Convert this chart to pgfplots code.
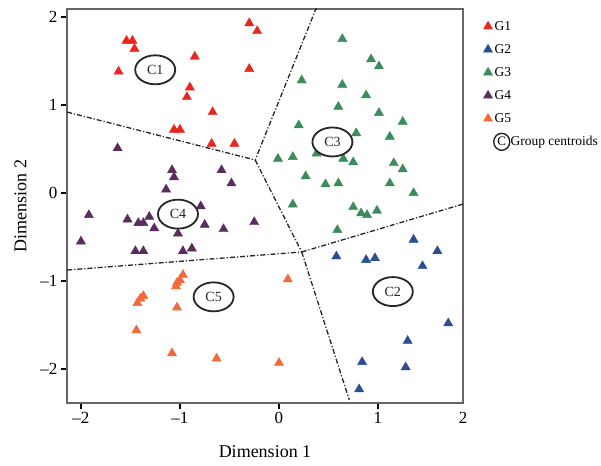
\documentclass[border=0pt]{standalone}
\usepackage{fontspec}
\setmainfont{Liberation Serif}
\usepackage{pgfplots}
\pgfplotsset{compat=1.18}
\usetikzlibrary{shapes.geometric}
\definecolor{cA}{RGB}{232,38,30}
\definecolor{cB}{RGB}{42,78,142}
\definecolor{cC}{RGB}{58,140,92}
\definecolor{cD}{RGB}{90,46,92}
\definecolor{cE}{RGB}{242,106,58}
\pgfplotsset{grp/.style={only marks, mark=triangle*, mark size=5.3pt, color=#1, fill=#1,
  legend image code/.code={\draw[mark size=5.2pt] plot coordinates {(0.17cm,0cm)};}}}
\begin{document}
\begin{tikzpicture}
\useasboundingbox (-67pt,-62pt) rectangle (534pt,403pt);
\begin{axis}[
  scale only axis, width=396pt, height=394pt,
  xmin=-2.141, xmax=1.859, ymin=-2.386, ymax=2.091,
  axis line style={draw=black!60, line width=1.4pt},
  tick pos=left, tick align=outside,
  major tick length=6pt,
  tick style={black, line width=2pt},
  xtick={-2,-1,0,1}, xticklabels={--2,--1,0,1},
  extra x ticks={1.859}, extra x tick labels={2}, extra x tick style={tick style={draw=none}},
  ytick={-2,-1,0,1,2}, yticklabels={--2,--1,0,1,2},
  ticklabel style={font=\fontsize{17}{20}\selectfont},
  xlabel={Dimension 1}, ylabel={Dimension 2},
  xlabel shift=3pt, ylabel shift=7pt,
  label style={font=\fontsize{18}{21}\selectfont},
  legend style={draw=none, fill=none, at={(1,1)}, anchor=north west, xshift=17pt, yshift=-8pt,
    font=\fontsize{13.5}{16}\selectfont, row sep=8.6pt, inner xsep=3pt, inner ysep=2pt,
    nodes={inner sep=2pt, text depth=0.15em}, cells={anchor=west}},
]
% boundaries
\addplot[forget plot, black!85, line width=1.3pt, dash pattern=on 5pt off 2pt on 1.2pt off 2pt] coordinates {(0.38,2.11) (-0.24,0.375)};
\addplot[forget plot, black!85, line width=1.3pt, dash pattern=on 5pt off 2pt on 1.2pt off 2pt] coordinates {(-2.14,0.92) (-0.24,0.375)};
\addplot[forget plot, black!85, line width=1.3pt, dash pattern=on 5pt off 2pt on 1.2pt off 2pt] coordinates {(-0.24,0.375) (0.23,-0.67)};
\addplot[forget plot, black!85, line width=1.3pt, dash pattern=on 5pt off 2pt on 1.2pt off 2pt] coordinates {(-2.14,-0.875) (0.23,-0.67)};
\addplot[forget plot, black!85, line width=1.3pt, dash pattern=on 5pt off 2pt on 1.2pt off 2pt] coordinates {(0.23,-0.67) (1.86,-0.125)};
\addplot[forget plot, black!85, line width=1.3pt, dash pattern=on 5pt off 2pt on 1.2pt off 2pt] coordinates {(0.23,-0.67) (0.71,-2.35)};
% groups
\addplot[grp=cA] table {
x y
-0.30 1.93
-0.22 1.84
-1.54 1.73
-1.48 1.73
-1.46 1.64
-0.85 1.55
-1.62 1.38
-0.30 1.41
-0.90 1.20
-0.93 1.09
-0.67 0.92
-1.06 0.72
-1.00 0.72
-0.68 0.56
-0.45 0.56
};
\addlegendentry{G1}
\addplot[grp=cB] table {
x y
1.36 -0.53
1.60 -0.66
0.58 -0.72
0.88 -0.76
0.97 -0.74
1.45 -0.83
1.71 -1.48
1.30 -1.68
0.84 -1.92
1.28 -1.98
0.81 -2.23
};
\addlegendentry{G2}
\addplot[grp=cC] table {
x y
0.64 1.75
0.93 1.52
1.01 1.44
0.23 1.28
0.64 1.23
0.88 1.11
0.60 0.98
1.01 0.91
0.20 0.77
1.25 0.81
0.78 0.68
1.12 0.64
-0.01 0.39
0.14 0.41
0.38 0.45
0.65 0.39
0.75 0.35
1.16 0.34
1.25 0.27
0.27 0.19
0.47 0.10
0.60 0.11
1.12 0.11
1.36 0.00
0.14 -0.13
0.75 -0.16
0.83 -0.23
0.89 -0.25
0.99 -0.20
0.59 -0.42
};
\addlegendentry{G3}
\addplot[grp=cD] table {
x y
-1.63 0.51
-1.08 0.26
-1.06 0.18
-0.58 0.26
-0.48 0.11
-1.14 0.04
-1.92 -0.25
-1.53 -0.30
-1.42 -0.34
-1.37 -0.34
-1.31 -0.27
-1.26 -0.40
-0.79 -0.15
-0.75 -0.36
-1.02 -0.46
-0.56 -0.41
-0.25 -0.33
-2.00 -0.55
-1.45 -0.66
-1.37 -0.66
-0.97 -0.66
-0.88 -0.63
};
\addlegendentry{G4}
\addplot[grp=cE] table {
x y
-0.97 -0.93
-1.00 -0.99
-1.03 -1.02
-1.04 -1.06
-1.37 -1.17
-1.40 -1.20
-1.43 -1.25
-1.03 -1.30
-1.44 -1.56
-1.08 -1.82
-0.63 -1.88
0.09 -0.98
0.00 -1.93
};
\addlegendentry{G5}
% centroids
\addplot[forget plot, only marks, mark=none, nodes near coords, point meta=explicit symbolic,
  every node near coord/.append style={anchor=center, ellipse, draw=black!85, line width=1.8pt, fill=white,
    minimum width=40pt, minimum height=29pt, inner sep=0pt, font=\fontsize{14}{16}\selectfont, text=black!85}]
  table[meta=lab] {
x y lab
-1.25 1.40 C1
1.15 -1.12 C2
0.54 0.58 C3
-1.02 -0.24 C4
-0.66 -1.18 C5
};
\addlegendimage{legend image code/.code={\node[ellipse, draw=black!85, line width=1.4pt, inner sep=0pt, minimum width=16pt, minimum height=17pt, font=\fontsize{13}{15}\selectfont, overlay] at (0.17cm+5pt,0) {C};}}
\addlegendentry{\hspace*{16pt}Group centroids}
\end{axis}
\end{tikzpicture}
\end{document}
